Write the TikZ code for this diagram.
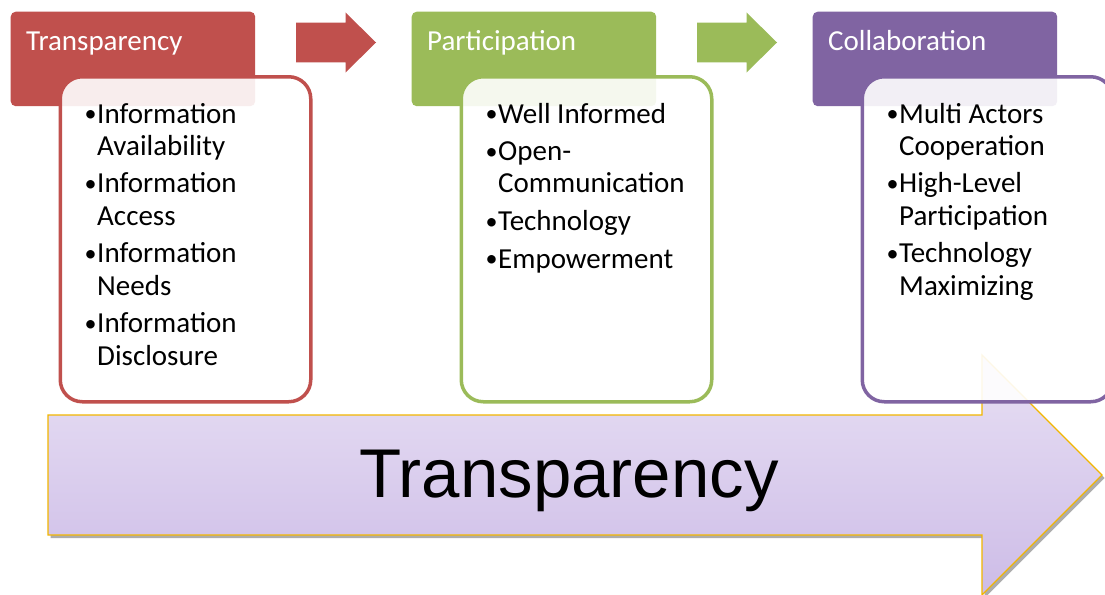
\documentclass[tikz,border=0pt]{standalone}
\usepackage{fontspec}
\setmainfont{Carlito}
\newfontfamily\arialf{Liberation Sans}
\definecolor{tred}{HTML}{C0504D}
\definecolor{tgreen}{HTML}{9BBB59}
\definecolor{tpurple}{HTML}{8064A2}
\definecolor{bigtop}{HTML}{E8E0F4}
\definecolor{bigbot}{HTML}{CDBCE7}
\definecolor{bigline}{HTML}{F2B600}
\newcommand{\bul}{\makebox[12pt][l]{\hspace{-0.5pt}\raisebox{1.5pt}{\fontsize{24}{24}\selectfont •}}}
\begin{document}
\begin{tikzpicture}[x=1pt,y=-1pt,
  hdr/.style={draw=none, rounded corners=5pt, minimum width=244.5pt, minimum height=94.5pt, anchor=north west, inner sep=0pt},
  hdrtext/.style={anchor=base west, text=white, inner sep=0pt, font=\fontsize{29}{33}\selectfont},
  bodybox/.style={rounded corners=22pt, line width=3.5pt, fill=white, fill opacity=0.9, draw opacity=1, minimum width=250.5pt, minimum height=325pt, anchor=north west, inner sep=0pt},
  bodytext/.style={anchor=base west, inner sep=0pt, align=left, font=\fontsize{29}{32.3}\selectfont},
  bigarrow/.style={draw=bigline, line width=1.3pt, line join=miter, top color=bigtop, bottom color=bigbot},
  bigshadow/.style={fill=gray!75, opacity=0.85}
]
\useasboundingbox (0,0) rectangle (1105,594);
\fill[white] (0,0) rectangle (1105,594);
% big arrow with shadow
\fill[bigshadow, shift={(2.5pt,-3pt)}] (48,415) -- (982,415) -- (982,355) -- (1102,475) -- (982,595) -- (982,535) -- (48,535) -- cycle;
\path[bigarrow] (48,415) -- (982,415) -- (982,355) -- (1102,475) -- (982,595) -- (982,535) -- (48,535) -- cycle;
\node[anchor=base, inner sep=0pt, font=\arialf\fontsize{69}{80}\selectfont] (bigtext) at (569,497) {Transparency};
% small arrows
\fill[tred] (296,22.7) -- (345.5,22.7) -- (345.5,12.5) -- (376,42.5) -- (345.5,72.5) -- (345.5,62.3) -- (296,62.3) -- cycle;
\fill[tgreen] (697,22.7) -- (746.5,22.7) -- (746.5,12.5) -- (777,42.5) -- (746.5,72.5) -- (746.5,62.3) -- (697,62.3) -- cycle;
% headers
\node[hdr, fill=tred] (h1) at (10.5,11.5) {};
\node[hdr, fill=tgreen] (h2) at (411.5,11.5) {};
\node[hdr, fill=tpurple] (h3) at (812.5,11.5) {};
\node[hdrtext] (t1) at (26,50.5) {Transparency};
\node[hdrtext] (t2) at (427,50.5) {Participation};
\node[hdrtext] (t3) at (828,50.5) {Collaboration};
% bodies
\node[bodybox, draw=tred] (b1) at (58.5,75) {};
\node[bodybox, draw=tgreen] (b2) at (459.5,75) {};
\node[bodybox, draw=tpurple] (b3) at (860.5,75) {};
\node[bodytext] (l1) at (85,123) {\begin{tabular}[t]{@{}l@{}l@{}}
\bul&Information\\ &Availability\\[5.3pt]
\bul&Information\\ &Access\\[5.3pt]
\bul&Information\\ &Needs\\[5.3pt]
\bul&Information\\ &Disclosure
\end{tabular}};
\node[bodytext] (l2) at (486,123) {\begin{tabular}[t]{@{}l@{}l@{}}
\bul&Well Informed\\[5.3pt]
\bul&Open-\\ &Communication\\[5.3pt]
\bul&Technology\\[5.3pt]
\bul&Empowerment
\end{tabular}};
\node[bodytext] (l3) at (887,123) {\begin{tabular}[t]{@{}l@{}l@{}}
\bul&Multi Actors\\ &Cooperation\\[5.3pt]
\bul&High-Level\\ &Participation\\[5.3pt]
\bul&Technology\\ &Maximizing
\end{tabular}};
\end{tikzpicture}
\end{document}
